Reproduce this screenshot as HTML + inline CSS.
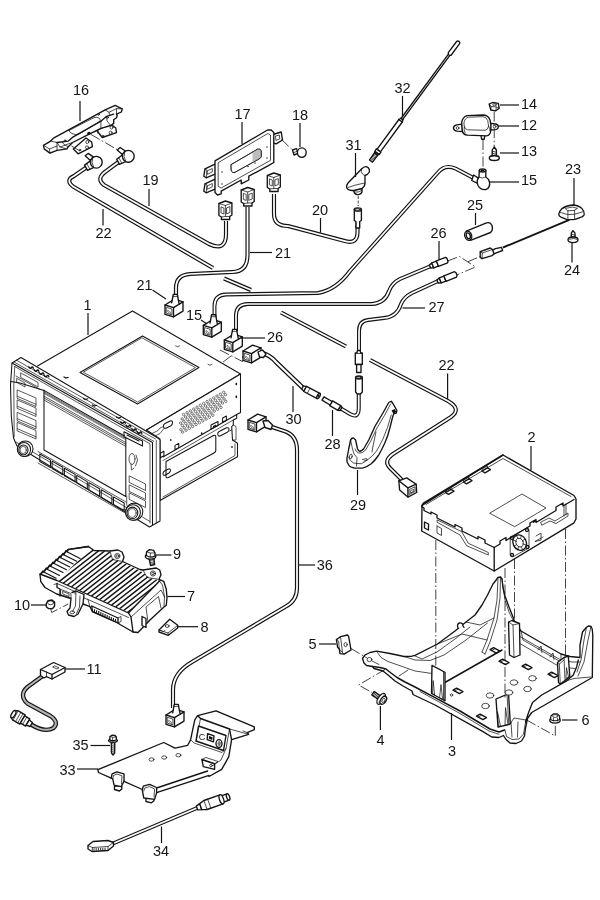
<!DOCTYPE html>
<html><head><meta charset="utf-8"><title>Radio / navigation parts diagram</title>
<style>
html,body{margin:0;padding:0;background:#fff;}
body{width:600px;height:900px;overflow:hidden;}
svg{display:block;will-change:transform;}
.l{fill:none;stroke:#141414;stroke-width:1.35;stroke-linecap:round;stroke-linejoin:round;}
.t{fill:none;stroke:#141414;stroke-width:0.75;stroke-linecap:round;stroke-linejoin:round;}
.w{fill:#fff;stroke:#141414;stroke-width:1.35;stroke-linecap:round;stroke-linejoin:round;}
.wt{fill:#fff;stroke:#141414;stroke-width:0.75;stroke-linecap:round;stroke-linejoin:round;}
.k{fill:#141414;stroke:none;}
.co{fill:none;stroke:#141414;stroke-width:4.15;stroke-linecap:butt;stroke-linejoin:round;}
.ci{fill:none;stroke:#fff;stroke-width:1.75;stroke-linecap:butt;stroke-linejoin:round;}
.dd{fill:none;stroke:#141414;stroke-width:0.8;stroke-dasharray:10 2.5 1.5 2.5;}
.ld{fill:none;stroke:#141414;stroke-width:1.2;}
#radio .l,#radio .w{stroke-width:1.05;}
#radio .t,#radio .wt{stroke-width:0.7;}
text{font-family:"Liberation Sans",sans-serif;font-size:14.5px;fill:#141414;text-anchor:middle;}
</style></head><body>
<svg width="600" height="900" viewBox="0 0 600 900">
<rect width="600" height="900" fill="#fff"/>
<g id="cables">
<path class="co" d="M87 167 L74 176 Q65 180 73 186.5 L213 268"/><path class="ci" d="M87 167 L74 176 Q65 180 73 186.5 L213 268"/>
<path class="co" d="M224 278.5 L251 290"/><path class="ci" d="M224 278.5 L251 290"/>
<path class="co" d="M281 312.5 L346 346.5"/><path class="ci" d="M281 312.5 L346 346.5"/>
<path class="co" d="M370 360 L448 401 Q462 409 451 417 L393 454 Q383 461 390 468 L402 480"/><path class="ci" d="M370 360 L448 401 Q462 409 451 417 L393 454 Q383 461 390 468 L402 480"/>
<path class="co" d="M118.5 162 L105 172 Q96 179 104 185 L209 244 Q226 252 226 234 L226 221"/><path class="ci" d="M118.5 162 L105 172 Q96 179 104 185 L209 244 Q226 252 226 234 L226 221"/>
<path class="co" d="M247.5 207 L247.5 255 Q247.5 272 232 272 L190 274 Q176 275 176 288 L176 299"/><path class="ci" d="M247.5 207 L247.5 255 Q247.5 272 232 272 L190 274 Q176 275 176 288 L176 299"/>
<path class="co" d="M274 194 L274 214 Q274 226 288 226 L344 240.8 Q357.5 245 357.5 232 L357.5 220"/><path class="ci" d="M274 194 L274 214 Q274 226 288 226 L344 240.8 Q357.5 245 357.5 232 L357.5 220"/>
<path class="co" d="M473 177.8 L455.5 168.5 Q445 164 438 172.5 L350 271 Q336 290 318 293 L226 294.5 Q214.5 295 214.5 306 L214.5 319" style="stroke-width:3.9"/><path class="ci" d="M473 177.8 L455.5 168.5 Q445 164 438 172.5 L350 271 Q336 290 318 293 L226 294.5 Q214.5 295 214.5 306 L214.5 319" style="stroke-width:1.65;"/>
<path class="co" d="M431 266 L400 279 Q392 283 389 291 Q385 303 372 304 L248 304 Q236 304 236 316 L236 331" style="stroke-width:4.0"/><path class="ci" d="M431 266 L400 279 Q392 283 389 291 Q385 303 372 304 L248 304 Q236 304 236 316 L236 331" style="stroke-width:1.7;"/>
<path class="co" d="M438 281 L412 293 Q404 297 401 304 Q397 317 384 318 L368 320 Q359 321 359 331 L359 353" style="stroke-width:4.0"/><path class="ci" d="M438 281 L412 293 Q404 297 401 304 Q397 317 384 318 L368 320 Q359 321 359 331 L359 353" style="stroke-width:1.7;"/>
<path class="co" d="M358.75 392 L358.75 408 Q358.75 419 350 414 L340 408" style="stroke-width:4.0"/><path class="ci" d="M358.75 392 L358.75 408 Q358.75 419 350 414 L340 408" style="stroke-width:1.7;"/>
<path class="co" d="M262 353 Q270 355 276 362 L303 388" style="stroke-width:4.6"/><path class="ci" d="M262 353 Q270 355 276 362 L303 388" style="stroke-width:2.2;"/>
<path class="co" d="M272 427 L284 431 Q297 435 297 450 L297 588 Q297 601 285 607 L192 662 Q173 673 173 690 L173 708"/><path class="ci" d="M272 427 L284 431 Q297 435 297 450 L297 588 Q297 601 285 607 L192 662 Q173 673 173 690 L173 708"/>
<path class="co" d="M44 675 L27.5 687 Q18.5 695 27.5 703.5 L50.5 716 Q59.5 722 53.5 728 Q45 733 31 724.5" style="stroke-width:4.4"/><path class="ci" d="M44 675 L27.5 687 Q18.5 695 27.5 703.5 L50.5 716 Q59.5 722 53.5 728 Q45 733 31 724.5" style="stroke-width:2.0;stroke:#b5b5b5;"/>
<path class="co" d="M113 843.5 L197 808" style="stroke-width:4.0"/><path class="ci" d="M113 843.5 L197 808" style="stroke-width:1.8;"/>
<path d="M569.3 219.8 L503 247.5" style="fill:none;stroke:#141414;stroke-width:1.9"/>
</g>
<g id="radio">
<path class="w" d="M37.5 366.0 L132.5 311.0 L240.5 374.0 L146.5 430.0"/>
<path class="l" d="M142.5 336.0 L199.0 367.5 L137.5 404.0 L80.0 372.5 Z"/>
<path class="t" d="M142.3 338.0 L195.4 367.6 L137.6 402.0 L83.6 372.4 Z"/>
<path class="w" d="M146.5 430.0 L240.5 374.0 L240.5 412.5 L236.7 414.5 L236.7 418.3 L233.3 420.0 L233.3 425.0 L231.7 426.7 L232.5 440.0 L237.5 443.3 L237.5 456.7 L160.0 500.5 L160.0 439.0 Z"/>
<path class="l" d="M236.7 414.5 L163.0 457.0"/>
<path class="t" d="M233.3 420.0 L163.0 460.5"/>
<path class="t" d="M163.0 497.0 L235.0 455.5 L235.0 444.0"/>
<path class="l" d="M166 461.5 L213.5 435.5 Q215.8 434.8 215.8 437 L215.8 450.5 Q215.8 452 214 453 L168.5 477.5 Q166 478.3 166 476.5 Z"/>
<path class="l" d="M163.5 426.5 Q163 424.5 165 423.5 L170 421 Q172.5 420.3 172.5 422.5 Q172.6 424.8 170.5 426 L166 428.2 Q163.8 428.8 163.5 426.5 Z"/>
<path class="t" d="M152.0 433.5 L158.0 430.5 L160.0 428.0 L163.5 426.5"/>
<path class="t" d="M154.0 436.5 L160.0 433.5 L164.0 428.5"/>
<path class="l" d="M217.8 434.5 Q217.3 432.5 219.2 431.5 L226.5 427.8 Q229 427.2 229 429.3 Q229.2 431.3 227.3 432.3 L220 436 Q218 436.6 217.8 434.5 Z"/>
<path class="l" d="M175.0 445.4 L178.8 443.4 L178.8 447.6 L175.0 449.6 Z"/>
<path class="l" d="M222.6 418.0 L226.4 416.0 L226.4 420.2 L222.6 422.2 Z"/>
<path class="l" d="M160.3 453.2 L163.9 451.2 L163.9 455.8 L160.3 457.8 Z"/>
<path class="l" d="M211.0 425.0 L218.0 421.5 L218.0 425.5 L211.0 429.0 Z"/>
<path class="k" d="M213 426 l3 -1.5 l0 1.6 l-3 1.5 Z"/>
<ellipse class="k" cx="236.3" cy="384" rx="0.9" ry="1.3"/>
<ellipse class="k" cx="236.3" cy="396.7" rx="0.9" ry="1.3"/>
<ellipse class="k" cx="170.8" cy="440" rx="0.8" ry="1.1"/>
<ellipse class="k" cx="201.7" cy="433.3" rx="0.8" ry="1.1"/>
<ellipse class="k" cx="232" cy="447" rx="0.8" ry="1.1"/>
<path class="t" d="M233.3 425.0 L236.0 426.5 L236.0 440.0 L232.5 440.0"/>
<path class="t" d="M231.7 430.0 L229.5 431.0"/>
<path class="l" d="M163 474 Q162.8 472 164.5 471 L168.5 469 Q170.5 468.5 170.5 470.3 Q170.5 472 169 473 L165 475.2 Q163.2 475.8 163 474 Z"/>
<circle cx="183.6" cy="414.6" r="1.2" style="fill:none;stroke:#141414;stroke-width:0.55"/>
<circle cx="187.0" cy="412.8" r="1.2" style="fill:none;stroke:#141414;stroke-width:0.55"/>
<circle cx="190.3" cy="410.9" r="1.2" style="fill:none;stroke:#141414;stroke-width:0.55"/>
<circle cx="193.7" cy="409.1" r="1.2" style="fill:none;stroke:#141414;stroke-width:0.55"/>
<circle cx="197.0" cy="407.2" r="1.2" style="fill:none;stroke:#141414;stroke-width:0.55"/>
<circle cx="200.3" cy="405.3" r="1.2" style="fill:none;stroke:#141414;stroke-width:0.55"/>
<circle cx="203.7" cy="403.5" r="1.2" style="fill:none;stroke:#141414;stroke-width:0.55"/>
<circle cx="207.0" cy="401.6" r="1.2" style="fill:none;stroke:#141414;stroke-width:0.55"/>
<circle cx="210.4" cy="399.8" r="1.2" style="fill:none;stroke:#141414;stroke-width:0.55"/>
<circle cx="213.7" cy="397.9" r="1.2" style="fill:none;stroke:#141414;stroke-width:0.55"/>
<circle cx="217.0" cy="396.0" r="1.2" style="fill:none;stroke:#141414;stroke-width:0.55"/>
<circle cx="220.4" cy="394.2" r="1.2" style="fill:none;stroke:#141414;stroke-width:0.55"/>
<circle cx="223.7" cy="392.3" r="1.2" style="fill:none;stroke:#141414;stroke-width:0.55"/>
<circle cx="182.1" cy="418.9" r="1.2" style="fill:none;stroke:#141414;stroke-width:0.55"/>
<circle cx="185.5" cy="417.0" r="1.2" style="fill:none;stroke:#141414;stroke-width:0.55"/>
<circle cx="188.8" cy="415.1" r="1.2" style="fill:none;stroke:#141414;stroke-width:0.55"/>
<circle cx="192.1" cy="413.3" r="1.2" style="fill:none;stroke:#141414;stroke-width:0.55"/>
<circle cx="195.5" cy="411.4" r="1.2" style="fill:none;stroke:#141414;stroke-width:0.55"/>
<circle cx="198.8" cy="409.6" r="1.2" style="fill:none;stroke:#141414;stroke-width:0.55"/>
<circle cx="202.2" cy="407.7" r="1.2" style="fill:none;stroke:#141414;stroke-width:0.55"/>
<circle cx="205.5" cy="405.9" r="1.2" style="fill:none;stroke:#141414;stroke-width:0.55"/>
<circle cx="208.8" cy="404.0" r="1.2" style="fill:none;stroke:#141414;stroke-width:0.55"/>
<circle cx="212.2" cy="402.1" r="1.2" style="fill:none;stroke:#141414;stroke-width:0.55"/>
<circle cx="215.5" cy="400.3" r="1.2" style="fill:none;stroke:#141414;stroke-width:0.55"/>
<circle cx="218.9" cy="398.4" r="1.2" style="fill:none;stroke:#141414;stroke-width:0.55"/>
<circle cx="222.2" cy="396.6" r="1.2" style="fill:none;stroke:#141414;stroke-width:0.55"/>
<circle cx="225.5" cy="394.7" r="1.2" style="fill:none;stroke:#141414;stroke-width:0.55"/>
<circle cx="180.6" cy="423.1" r="1.2" style="fill:none;stroke:#141414;stroke-width:0.55"/>
<circle cx="183.9" cy="421.2" r="1.2" style="fill:none;stroke:#141414;stroke-width:0.55"/>
<circle cx="187.3" cy="419.4" r="1.2" style="fill:none;stroke:#141414;stroke-width:0.55"/>
<circle cx="190.6" cy="417.5" r="1.2" style="fill:none;stroke:#141414;stroke-width:0.55"/>
<circle cx="194.0" cy="415.7" r="1.2" style="fill:none;stroke:#141414;stroke-width:0.55"/>
<circle cx="197.3" cy="413.8" r="1.2" style="fill:none;stroke:#141414;stroke-width:0.55"/>
<circle cx="200.6" cy="411.9" r="1.2" style="fill:none;stroke:#141414;stroke-width:0.55"/>
<circle cx="204.0" cy="410.1" r="1.2" style="fill:none;stroke:#141414;stroke-width:0.55"/>
<circle cx="207.3" cy="408.2" r="1.2" style="fill:none;stroke:#141414;stroke-width:0.55"/>
<circle cx="210.7" cy="406.4" r="1.2" style="fill:none;stroke:#141414;stroke-width:0.55"/>
<circle cx="214.0" cy="404.5" r="1.2" style="fill:none;stroke:#141414;stroke-width:0.55"/>
<circle cx="217.3" cy="402.6" r="1.2" style="fill:none;stroke:#141414;stroke-width:0.55"/>
<circle cx="220.7" cy="400.8" r="1.2" style="fill:none;stroke:#141414;stroke-width:0.55"/>
<circle cx="224.0" cy="398.9" r="1.2" style="fill:none;stroke:#141414;stroke-width:0.55"/>
<circle cx="182.4" cy="425.5" r="1.2" style="fill:none;stroke:#141414;stroke-width:0.55"/>
<circle cx="185.8" cy="423.6" r="1.2" style="fill:none;stroke:#141414;stroke-width:0.55"/>
<circle cx="189.1" cy="421.7" r="1.2" style="fill:none;stroke:#141414;stroke-width:0.55"/>
<circle cx="192.4" cy="419.9" r="1.2" style="fill:none;stroke:#141414;stroke-width:0.55"/>
<circle cx="195.8" cy="418.0" r="1.2" style="fill:none;stroke:#141414;stroke-width:0.55"/>
<circle cx="199.1" cy="416.2" r="1.2" style="fill:none;stroke:#141414;stroke-width:0.55"/>
<circle cx="202.5" cy="414.3" r="1.2" style="fill:none;stroke:#141414;stroke-width:0.55"/>
<circle cx="205.8" cy="412.4" r="1.2" style="fill:none;stroke:#141414;stroke-width:0.55"/>
<circle cx="209.1" cy="410.6" r="1.2" style="fill:none;stroke:#141414;stroke-width:0.55"/>
<circle cx="212.5" cy="408.7" r="1.2" style="fill:none;stroke:#141414;stroke-width:0.55"/>
<circle cx="215.8" cy="406.9" r="1.2" style="fill:none;stroke:#141414;stroke-width:0.55"/>
<circle cx="219.2" cy="405.0" r="1.2" style="fill:none;stroke:#141414;stroke-width:0.55"/>
<circle cx="222.5" cy="403.1" r="1.2" style="fill:none;stroke:#141414;stroke-width:0.55"/>
<circle cx="225.8" cy="401.3" r="1.2" style="fill:none;stroke:#141414;stroke-width:0.55"/>
<circle cx="180.9" cy="429.7" r="1.2" style="fill:none;stroke:#141414;stroke-width:0.55"/>
<circle cx="184.2" cy="427.8" r="1.2" style="fill:none;stroke:#141414;stroke-width:0.55"/>
<circle cx="187.6" cy="426.0" r="1.2" style="fill:none;stroke:#141414;stroke-width:0.55"/>
<circle cx="190.9" cy="424.1" r="1.2" style="fill:none;stroke:#141414;stroke-width:0.55"/>
<circle cx="194.3" cy="422.3" r="1.2" style="fill:none;stroke:#141414;stroke-width:0.55"/>
<circle cx="197.6" cy="420.4" r="1.2" style="fill:none;stroke:#141414;stroke-width:0.55"/>
<circle cx="200.9" cy="418.5" r="1.2" style="fill:none;stroke:#141414;stroke-width:0.55"/>
<circle cx="204.3" cy="416.7" r="1.2" style="fill:none;stroke:#141414;stroke-width:0.55"/>
<circle cx="207.6" cy="414.8" r="1.2" style="fill:none;stroke:#141414;stroke-width:0.55"/>
<circle cx="211.0" cy="413.0" r="1.2" style="fill:none;stroke:#141414;stroke-width:0.55"/>
<circle cx="214.3" cy="411.1" r="1.2" style="fill:none;stroke:#141414;stroke-width:0.55"/>
<circle cx="217.6" cy="409.2" r="1.2" style="fill:none;stroke:#141414;stroke-width:0.55"/>
<circle cx="221.0" cy="407.4" r="1.2" style="fill:none;stroke:#141414;stroke-width:0.55"/>
<circle cx="182.7" cy="432.1" r="1.2" style="fill:none;stroke:#141414;stroke-width:0.55"/>
<circle cx="186.1" cy="430.2" r="1.2" style="fill:none;stroke:#141414;stroke-width:0.55"/>
<circle cx="189.4" cy="428.3" r="1.2" style="fill:none;stroke:#141414;stroke-width:0.55"/>
<circle cx="192.7" cy="426.5" r="1.2" style="fill:none;stroke:#141414;stroke-width:0.55"/>
<circle cx="196.1" cy="424.6" r="1.2" style="fill:none;stroke:#141414;stroke-width:0.55"/>
<circle cx="199.4" cy="422.8" r="1.2" style="fill:none;stroke:#141414;stroke-width:0.55"/>
<circle cx="202.8" cy="420.9" r="1.2" style="fill:none;stroke:#141414;stroke-width:0.55"/>
<circle cx="206.1" cy="419.1" r="1.2" style="fill:none;stroke:#141414;stroke-width:0.55"/>
<circle cx="209.4" cy="417.2" r="1.2" style="fill:none;stroke:#141414;stroke-width:0.55"/>
<circle cx="212.8" cy="415.3" r="1.2" style="fill:none;stroke:#141414;stroke-width:0.55"/>
<path class="w" d="M12.0 363.0 L21.0 357.5 L158.3 438.3 L160.0 440.0 L160.0 521.0 L149.5 527.0 L17.0 446.0 L13.5 438.0 L11.3 416.0 L10.5 385.0 Z"/>
<path class="l" d="M12.0 363.0 L152.5 442.5 L152.5 524.5"/>
<path class="t" d="M156.3 440.5 L156.3 523.0"/>
<path class="t" d="M14.7 366.5 L150.0 443.8 L150.0 523.0"/>
<path class="t" d="M14.7 366.5 L13.8 385.0 L14.2 437.0"/>
<path class="t" d="M16.5 360.2 L155.5 439.0"/>
<path class="t" d="M14.5 362.3 L153.8 441.3"/>
<path class="l" d="M10.8 381.5 L20.0 383.0 L44.0 390.4"/>
<path class="l" d="M44.0 390.4 L124.5 436.0"/>
<path class="t" d="M44.0 391.6 L124.5 437.1" style="stroke-width:0.55"/>
<path class="t" d="M44.0 392.5 L124.5 438.1" style="stroke-width:0.55"/>
<path class="t" d="M44.0 393.5 L124.5 439.1" style="stroke-width:0.55"/>
<path class="t" d="M44.0 396.2 L125.8 442.6"/>
<path class="t" d="M44.0 398.0 L125.8 444.4"/>
<path class="t" d="M44.0 400.0 L125.8 446.4"/>
<path class="l" d="M44.0 390.0 L44.0 450.0 L125.8 496.5 L125.8 437.0"/>
<path class="t" d="M126.7 496.0 L126.7 505.0"/>
<path class="t" d="M21.0 373.0 L38.0 382.5 L38.0 387.0 L21.0 377.5 Z"/>
<path class="t" d="M17.0 378.5 L25.0 383.0 L25.0 387.0 L17.0 382.5 Z"/>
<path class="t" d="M16.0 376.0 L40.0 389.5"/>
<path class="t" d="M17.5 390.0 L36.0 398.0 L36.0 406.5 L17.5 398.5 Z"/>
<path class="t" d="M17.5 396.3 L36.0 404.3"/>
<path class="t" d="M17.5 400.0 L36.0 408.0 L36.0 416.5 L17.5 408.5 Z"/>
<path class="t" d="M17.5 406.3 L36.0 414.3"/>
<path class="t" d="M17.5 412.5 L36.0 420.5 L36.0 429.0 L17.5 421.0 Z"/>
<path class="t" d="M17.5 418.8 L36.0 426.8"/>
<path class="t" d="M17.5 422.5 L36.0 430.5 L36.0 439.0 L17.5 431.0 Z"/>
<path class="t" d="M17.5 428.8 L36.0 436.8"/>
<path class="l" d="M124.0 431.7 L142.5 441.0 L142.5 446.0 L124.0 436.8 Z"/>
<path class="l" d="M127.0 435.0 L139.0 441.0"/>
<ellipse class="t" cx="132" cy="459" rx="3" ry="5.5"/>
<path class="t" d="M131.0 464.0 L131.5 470.0 L134.0 468.0"/>
<path class="t" d="M136.0 455.0 L137.5 460.0 L135.5 466.0"/>
<path class="t" d="M129.5 476.0 L145.5 484.0 L145.5 490.5 L129.5 482.5 Z"/>
<path class="t" d="M129.5 485.0 L145.5 493.0 L145.5 499.5 L129.5 491.5 Z"/>
<path class="t" d="M129.5 493.0 L145.5 501.0 L145.5 507.5 L129.5 499.5 Z"/>
<path class="t" d="M38.0 451.5 L126.0 502.0"/>
<path class="t" d="M38.0 463.0 L126.0 513.5"/>
<path class="l" d="M39.8 454.0 L50.5 460.1 L50.5 467.6 L39.8 461.5 Z"/>
<path class="l" d="M52.1 461.1 L62.8 467.3 L62.8 474.8 L52.1 468.6 Z"/>
<path class="l" d="M64.4 468.3 L75.1 474.4 L75.1 481.9 L64.4 475.8 Z"/>
<path class="l" d="M76.7 475.4 L87.3 481.6 L87.3 489.1 L76.7 482.9 Z"/>
<path class="l" d="M88.9 482.6 L99.6 488.7 L99.6 496.2 L88.9 490.1 Z"/>
<path class="l" d="M101.2 489.7 L111.9 495.9 L111.9 503.4 L101.2 497.2 Z"/>
<path class="l" d="M113.5 496.9 L124.2 503.0 L124.2 510.5 L113.5 504.4 Z"/>
<path class="t" d="M16.0 442.0 L150.0 521.5"/>
<ellipse class="w" cx="25.2" cy="448.7" rx="7.8" ry="7.8"/>
<ellipse class="w" cx="24" cy="449.5" rx="6.6" ry="7.0"/>
<ellipse class="l" cx="23.4" cy="449.9" rx="4.6" ry="5.0"/>
<ellipse class="t" cx="23.2" cy="450.0" rx="3.2" ry="3.5999999999999996"/>
<ellipse class="w" cx="134.2" cy="511.7" rx="8.6" ry="8.6"/>
<ellipse class="w" cx="133" cy="512.5" rx="7.3999999999999995" ry="7.8"/>
<ellipse class="l" cx="132.4" cy="512.9" rx="5.3999999999999995" ry="5.8"/>
<ellipse class="t" cx="132.2" cy="513.0" rx="4.0" ry="4.3999999999999995"/>
<path d="M28.8 366.8 q1.5 2.6 2.6 0.6 q1 -1.2 2 0.8" style="fill:none;stroke:#141414;stroke-width:1.4;stroke-linecap:round"/>
<path d="M34.3 369.8 q1.5 2.6 2.6 0.6 q1 -1.2 2 0.8" style="fill:none;stroke:#141414;stroke-width:1.4;stroke-linecap:round"/>
<path d="M39.3 372.8 q1.5 2.6 2.6 0.6 q1 -1.2 2 0.8" style="fill:none;stroke:#141414;stroke-width:1.4;stroke-linecap:round"/>
<path d="M44.3 375.3 q1.5 2.6 2.6 0.6 q1 -1.2 2 0.8" style="fill:none;stroke:#141414;stroke-width:1.4;stroke-linecap:round"/>
<path d="M120.8 421.8 q1.5 2.6 2.6 0.6 q1 -1.2 2 0.8" style="fill:none;stroke:#141414;stroke-width:1.4;stroke-linecap:round"/>
<path d="M126.3 425.3 q1.5 2.6 2.6 0.6 q1 -1.2 2 0.8" style="fill:none;stroke:#141414;stroke-width:1.4;stroke-linecap:round"/>
<path d="M131.8 428.8 q1.5 2.6 2.6 0.6 q1 -1.2 2 0.8" style="fill:none;stroke:#141414;stroke-width:1.4;stroke-linecap:round"/>
<path d="M137.3 431.8 q1.5 2.6 2.6 0.6 q1 -1.2 2 0.8" style="fill:none;stroke:#141414;stroke-width:1.4;stroke-linecap:round"/>
<path d="M64 376.9 l2 1.2 l2.2 -0.8" style="fill:none;stroke:#141414;stroke-width:1.2;stroke-linecap:round"/>
<path d="M92.5 404.9 l2 1.2 l2.2 -0.8" style="fill:none;stroke:#141414;stroke-width:1.2;stroke-linecap:round"/>
<path d="M116.5 416.9 l2 1.2 l2.2 -0.8" style="fill:none;stroke:#141414;stroke-width:1.2;stroke-linecap:round"/>
<path d="M83.5 398.4 l2 1.2 l2.2 -0.8" style="fill:none;stroke:#141414;stroke-width:1.2;stroke-linecap:round"/>
<path class="t" d="M175.5 346 q2 1.6 4 0"/>
<path class="t" d="M208 364.5 q2 1.6 4 0"/>
</g>
<g id="p16">
<path class="w" d="M73.3 148.9 L78.2 153.8 L92.4 146.7 L91.7 142.0 L86.0 138.0 Z"/>
<path class="w" d="M96.7 130.5 L102.3 137.5 L116.5 132.6 L115.8 128.0 L110.5 124.0 Z"/>
<path class="w" d="M43.5 145.3 L50.6 141.1 L53.5 138.2 L105.2 109.9 L115.1 105.4 L122.2 108.8 L121.4 112.0 L116.5 114.2 L117.2 115.6 L116.5 117.7 L113.7 119.8 L113.7 123.4 L110.8 125.5 L100.9 128.3 L86.7 135.4 L72.6 142.5 L68.3 146.7 L66.9 148.9 L57.0 150.3 L49.9 153.1 L44.2 148.9 Z"/>
<path class="l" d="M57.0 142.5 L68.3 141.1 L73.3 136.8 L100.9 121.2 L106.6 116.3 L113.7 114.2"/>
<path class="t" d="M50.6 141.1 L57.0 142.5 L57.0 150.3"/>
<path class="t" d="M43.5 145.3 L49.5 149.0 L57.0 146.0"/>
<path class="t" d="M49.5 149.0 L49.9 153.1"/>
<path class="t" d="M57.0 142.5 L60.0 147.0 L66.9 148.9"/>
<path class="t" d="M60.0 147.0 L68.0 144.0 L72.6 142.5"/>
<path class="t" d="M62.0 141.8 L64.0 144.5 L68.3 146.7"/>
<path class="t" d="M105.2 109.9 L109.0 112.3 L116.5 108.6 L122.2 108.8"/>
<path class="t" d="M109.0 112.3 L109.5 115.2"/>
<path class="t" d="M116.5 108.6 L116.5 114.2"/>
<path class="t" d="M106.6 116.3 L107.0 121.0 L110.8 125.5"/>
<path class="t" d="M100.9 121.2 L100.9 128.3"/>
<path class="t" d="M69 130.5 L94 117.6 Q97 116.5 99.5 118.4 Q101.5 120 99 122 L79 134 Q76 135.5 72 133.5 Q69 132 69 130.5 Z"/>
<circle class="wt" cx="87.3" cy="142" r="1.5"/>
<circle class="wt" cx="87" cy="147.3" r="1.5"/>
<circle class="wt" cx="111.5" cy="127.6" r="1.5"/>
<circle class="wt" cx="110.6" cy="132.6" r="1.5"/>
<ellipse class="k" cx="89" cy="133.2" rx="1.8" ry="1.5"/>
<path class="t" d="M95 132 q1.5 -2.5 3 -1.5 l0 3"/>
<circle class="t" cx="65" cy="140.5" r="0.8"/>
<circle class="t" cx="98.5" cy="114.5" r="0.8"/>
<circle class="t" cx="103" cy="136" r="0.8"/>
<circle class="t" cx="107.5" cy="117.5" r="0.8"/>
<circle class="t" cx="80" cy="150" r="0.8"/>
<path class="dd" d="M71.5 146 L80 151"/>
<path class="dd" d="M91 134.5 L118 150"/>
<path class="w" d="M91.0 160.39999999999998 L84.6 165.1 L87.5 170.29999999999998 L93.89999999999999 167.39999999999998 Z"/>
<path class="t" d="M86.8 163.5 L89.7 169.1"/>
<path class="w" d="M85.2 155.79999999999998 L88.1 153.39999999999998 L93.3 156.89999999999998 L90.39999999999999 160.39999999999998 Z"/>
<circle class="w" cx="96.3" cy="162.2" r="5.9"/>
<path class="t" d="M92.7 157.6 Q90.8 162.2 93.7 167.39999999999998"/>
<path class="w" d="M123.00000000000001 154.5 L116.60000000000001 159.20000000000002 L119.50000000000001 164.4 L125.9 161.5 Z"/>
<path class="t" d="M118.80000000000001 157.60000000000002 L121.70000000000002 163.20000000000002"/>
<path class="w" d="M117.20000000000002 149.9 L120.10000000000001 147.5 L125.30000000000001 151.0 L122.4 154.5 Z"/>
<circle class="w" cx="128.3" cy="156.3" r="5.9"/>
<path class="t" d="M124.70000000000002 151.70000000000002 Q122.80000000000001 156.3 125.70000000000002 161.5"/>
</g>
<g id="p17">
<path class="w" d="M215.5 163.8 L205.0 168.8 L203.8 176.2 L206.2 177.8 L215.5 173.8 Z"/>
<path class="t" d="M207.5 170.8 L212.3 168.5 L212.3 171.8 L207.5 174.2 Z"/>
<path class="t" d="M205.0 168.8 L207.0 170.0 L206.2 177.8"/>
<path class="w" d="M215.5 178.8 L205.0 183.8 L203.8 191.2 L206.2 192.8 L215.5 188.8 Z"/>
<path class="t" d="M207.5 185.8 L212.3 183.5 L212.3 186.8 L207.5 189.2 Z"/>
<path class="t" d="M205.0 183.8 L207.0 185.0 L206.2 192.8"/>
<path class="w" d="M273.0 134.5 L281.2 132.0 L282.5 140.0 L276.2 143.8 L273.0 143.0 Z"/>
<path class="t" d="M275.8 136.0 L279.3 135.0 L279.8 138.8 L276.3 140.3 Z"/>
<path class="w" d="M215.0 160.8 L267.5 130.0 L271.2 130.0 L273.8 132.5 L273.8 162.5 L267.5 166.2 L248.8 176.2 L248.8 180.0 L241.2 183.8 L241.2 180.0 L221.2 191.2 L221.2 193.8 L217.5 195.0 L215.0 192.5 Z"/>
<path class="t" d="M218.5 162.5 L267.8 133.5 L270.5 135.0 L270.5 160.3 L221.2 188.0 L218.5 186.5 Z"/>
<path class="t" d="M231.25 164.5 L257.5 149.2 Q260.5 148.2 261.25 151 L261.25 156.5 Q261 158 259 159 L235 172.3 Q232 173.3 231.25 170.5 Z"/>
<path d="M252.5 152.2 L257.5 149.4 Q260.5 148.4 261 151 L261 156.5 Q260.8 157.8 259 158.8 L252.5 162.4 Z" fill="#bdbdbd" stroke="none"/>
<path class="t" d="M231.25 164.5 L257.5 149.2 Q260.5 148.2 261.25 151 L261.25 156.5 Q261 158 259 159 L235 172.3 Q232 173.3 231.25 170.5 Z"/>
<circle class="k" cx="222" cy="172" r="0.7"/>
<circle class="k" cx="222" cy="184" r="0.7"/>
<circle class="k" cx="267" cy="147" r="0.7"/>
<circle class="k" cx="267" cy="158" r="0.7"/>
<circle class="k" cx="248" cy="166.5" r="0.7"/>
<circle class="k" cx="255" cy="163" r="0.7"/>
<path class="w" d="M218.9 203.5 L225.4 201.0 L231.9 203.0 L231.9 215.0 L229.7 216.5 L229.7 219.5 L221.4 219.5 L221.4 217.0 L218.9 215.5 Z"/>
<path class="t" d="M218.9 203.5 L225.4 205.5 L231.9 203.0"/>
<path class="t" d="M225.4 205.5 L225.4 216.5"/>
<path class="t" d="M221.4 207.0 L223.9 208.0 L223.9 214.0 L221.4 213.0 Z"/>
<path class="t" d="M226.9 207.8 L229.9 206.6 L229.9 212.5 L226.9 213.7 Z"/>
<path class="t" d="M221.4 217.0 L225.4 216.5 L229.7 216.5"/>
<path class="w" d="M241.2 190.0 L247.7 187.5 L254.2 189.5 L254.2 201.5 L252.0 203.0 L252.0 206.0 L243.7 206.0 L243.7 203.5 L241.2 202.0 Z"/>
<path class="t" d="M241.2 190.0 L247.7 192.0 L254.2 189.5"/>
<path class="t" d="M247.7 192.0 L247.7 203.0"/>
<path class="t" d="M243.7 193.5 L246.2 194.5 L246.2 200.5 L243.7 199.5 Z"/>
<path class="t" d="M249.2 194.3 L252.2 193.1 L252.2 199.0 L249.2 200.2 Z"/>
<path class="t" d="M243.7 203.5 L247.7 203.0 L252.0 203.0"/>
<path class="w" d="M267.3 175.5 L273.8 173.0 L280.3 175.0 L280.3 187.0 L278.1 188.5 L278.1 191.5 L269.8 191.5 L269.8 189.0 L267.3 187.5 Z"/>
<path class="t" d="M267.3 175.5 L273.8 177.5 L280.3 175.0"/>
<path class="t" d="M273.8 177.5 L273.8 188.5"/>
<path class="t" d="M269.8 179.0 L272.3 180.0 L272.3 186.0 L269.8 185.0 Z"/>
<path class="t" d="M275.3 179.8 L278.3 178.6 L278.3 184.5 L275.3 185.7 Z"/>
<path class="t" d="M269.8 189.0 L273.8 188.5 L278.1 188.5"/>
<path class="w" d="M292.5 150 L296.5 148.6 L298 153.4 L294 155 Z"/>
<path class="t" d="M293.5 152.7 L297.3 151.2"/>
<ellipse class="w" cx="301.8" cy="152.6" rx="4.4" ry="4.8"/>
<path class="dd" d="M281.5 139.5 L291.5 149"/>
</g>
<g id="p31_32">
<path class="w" d="M353.5 190.5 L354.5 193 Q356 195 358.5 194.6 Q361.5 194 362 192 L362 188.5 Z"/>
<path class="t" d="M354 192 Q358 193 362 190.5"/>
<path class="w" d="M361.5 169 L348 183 Q345.5 186.5 347.5 189 Q350 191 354 190.3 L362 188.3 Q365 186.5 365 183 L365 175.5 Q368 174.5 369.3 172 Q370 168.5 367 166.8 Q364.5 165.8 361.5 169 Z"/>
<path class="t" d="M348 187.5 Q354 185 364.5 183"/>
<path class="t" d="M361.5 169 Q360.5 172 362.5 174 Q363.8 175.3 365 175.5"/>
<path class="dd" d="M358.2 196 L358.2 206" style="stroke-dasharray:3 1.5"/>
<path class="w" d="M354.3 209.5 L354.3 220.5 L356 221.5 L356 228 L359.7 228 L359.7 221.5 L361.4 220.5 L361.4 209.5 Z"/>
<ellipse class="w" cx="357.85" cy="209.5" rx="3.55" ry="1.6"/>
<ellipse class="t" cx="357.85" cy="209.6" rx="2.2" ry="0.9"/>
<path class="w" d="M401.0 118.5 L449.0 53.3 L450.6 54.4 L402.6 119.7 Z"/>
<path class="w" d="M448.3 52.7 L456.6 41.5 A1.9 1.9 0 0 1 459.6 43.7 L451.3 55.0 Q448.0 56.3 448.3 52.7Z"/>
<path class="w" d="M377.0 149.3 L398.9 119.5 L402.3 122.0 L380.4 151.8 Z"/>
<path class="l" d="M398.9 119.5 L401.6 117.7"/>
<path class="l" d="M402.3 122.0 L403.2 118.9"/>
<path class="t" d="M398.9 119.5 L402.3 122.0"/>
<path class="w" d="M374.7 151.3 L376.4 148.9 L381.0 152.2 L379.2 154.6 Z"/>
<path class="w" d="M374.4 153.0 L375.3 151.8 L378.5 154.1 L377.6 155.3 Z"/>
<path class="w" d="M369.5 159.9 L374.5 153.0 L377.6 155.3 L372.5 162.1 Z"/>
<path class="t" d="M370.4 158.7 L373.8 160.4"/>
<path class="t" d="M371.2 157.5 L374.7 159.2"/>
<path class="t" d="M372.1 156.2 L375.6 158.0"/>
<path class="t" d="M373.0 155.0 L376.4 156.8"/>
<path class="t" d="M373.9 153.8 L377.3 155.6"/>
</g>
<g id="p12">
<path class="w" d="M462 124.2 L456.5 124.8 Q453 126 453.5 128.3 Q454 130.8 457 131.2 L462.5 131.7 Z"/>
<circle class="t" cx="457.6" cy="128" r="1.4"/>
<path class="w" d="M490.5 123.3 L496 124 Q498.6 125 498.3 127 Q498 129.3 495.5 129.6 L490.5 130 Z"/>
<circle class="t" cx="494.6" cy="126.6" r="1.4"/>
<path class="w" d="M480.8 135 L481.7 139.2 L484.2 139.2 L485 135 Z"/>
<path class="w" d="M461.7 122.5 Q462.5 117 467 115.6 L483.5 115 Q488.5 115.5 490 120 L490.8 124 L490.8 130.5 Q490.3 135.5 486.5 135.8 L467.5 135.2 Q463 134.5 462.3 131 Z"/>
<path class="t" d="M464 122.5 Q464.8 118 468.3 117.2 L482.8 116.7 Q486.5 117 487.7 120.5 L488.6 126 Q488 130 485 130.3 L467.5 129.8 Q464.8 129.3 464.3 126.5 Z"/>
<path class="t" d="M464.3 126.5 Q463.5 130 465 133 M488.6 126 Q490 128 490 131"/>
<path class="dd" d="M483 140 L483 168.5"/>
<path class="w" d="M489.2 104.2 L492.5 102.5 L498.3 103.3 L499.2 108.3 L495.8 110.8 L490.8 110 Z"/>
<path class="t" d="M489.2 104.2 L491.2 106.5 L496.3 107 L499.2 108.3 M491.2 106.5 L490.8 110 M496.3 107 L495.8 110.8"/>
<ellipse class="t" cx="494.5" cy="104.8" rx="1.8" ry="1"/>
<path class="dd" d="M494.2 111.7 L494.2 146.7"/>
<path class="w" d="M494.2 147 L492.2 150 L492.2 156 L496.4 156 L496.4 150 Z"/>
<path class="t" d="M492.2 151.2 L496.4 152.2 M492.2 153.2 L496.4 154.2"/>
<ellipse class="w" cx="494.3" cy="158" rx="5" ry="2.5"/>
<path class="t" d="M490.3 156.6 Q494.3 154.8 498.3 156.6"/>
<path class="w" d="M479.2 178.6 L473.6 175 L471.7 180.5 L477.6 183.4 Z"/>
<path class="w" d="M479.3 170.5 L479 177 Q476 181 478 185.5 Q481 190.5 486 189.5 Q490.5 187.5 489.5 182 Q488.5 178.5 485.8 177 L485.8 170.5 Z"/>
<ellipse class="w" cx="482.55" cy="170.5" rx="3.25" ry="1.5"/>
<ellipse class="k" cx="482.55" cy="170.6" rx="2" ry="0.8"/>
<path class="t" d="M479 177 Q482 179.5 485.8 177"/>
</g>
<g id="p23">
<path class="w" d="M466.3 231.2 L486.5 222.8 Q490.5 221.8 492 225.5 Q493.3 230 490.5 232.5 L470.5 240.3 Z"/>
<ellipse class="w" cx="468.2" cy="235.7" rx="3.4" ry="4.7" transform="rotate(-20 468.2 235.7)"/>
<ellipse class="l" cx="468.3" cy="235.8" rx="1.9" ry="3" transform="rotate(-20 468.3 235.8)"/>
<path class="w" d="M558.75 214.6 Q559 211.5 562 208.6 Q566 205.6 572.5 205 Q578.5 205.3 582 208.6 Q584.4 211.2 584.2 214.4 Q584 216 582 216.8 L575 219.3 Q570.5 219.8 566.5 219.3 L561 217.2 Q558.8 216.2 558.75 214.6 Z"/>
<path class="t" d="M565.8 208.3 L572.5 207.1 L577.5 208.3 L574.2 210.4 L567.9 210.8 Z"/>
<path class="t" d="M560.4 212.5 L567.9 214.6 L574.6 214.2 L583.3 211.7"/>
<path class="t" d="M567.9 210.8 L567.9 218.8 M574.6 210.4 L574.6 218.8"/>
<path class="w" d="M492 250.3 L495.5 248.6 L501.5 247.3 L502.6 250.5 L497 252.6 L493.5 254 Z"/>
<path class="w" d="M480.2 251.6 L490.3 248 L492.5 249.5 L494 254 L492 255.6 L482 258.6 L480.2 257.2 Z"/>
<path class="t" d="M480.2 251.6 L482.3 253 L482 258.6 M482.3 253 L492.5 249.5"/>
<path class="w" d="M573 230.6 L571.3 233.2 L571.3 238.6 L575 238.6 L575 233.2 Z"/>
<path class="t" d="M571.3 234.2 L575 235.2 M571.3 236.2 L575 237.2"/>
<ellipse class="w" cx="573" cy="239.8" rx="5" ry="2.8"/>
<path class="t" d="M569.5 239.2 Q573.2 237.6 577 239.2"/>
<path class="w" d="M429.4 265.0 L431.8 262.9 L433.8 267.9 L430.6 268.0 Z"/>
<path class="w" d="M431.8 262.9 L436.5 261.1 L438.4 266.2 L433.8 267.9 Z"/>
<path class="w" d="M436.4 260.9 L445.5 257.4 L447.0 258.4 L448.0 261.2 L447.6 262.9 L438.5 266.3 Z"/>
<path class="w" d="M436.9 280.0 L439.3 277.9 L441.3 282.9 L438.1 283.0 Z"/>
<path class="w" d="M439.3 277.9 L443.9 276.1 L445.9 281.1 L441.3 282.9 Z"/>
<path class="w" d="M443.9 275.9 L454.5 271.7 L455.9 272.6 L457.1 275.4 L456.6 277.1 L446.0 281.3 Z"/>
<path class="dd" d="M447.5 261 L459.5 256.5 L475.5 267 L456.5 275"/>
<path class="dd" d="M467.8 261.8 L480 256.5"/>
</g>
<g id="conns">
<path class="w" d="M165.0 305.0 L174.5 299.2 L183.0 301.8 L183.0 311.1 L173.5 316.9 L165.0 314.3 Z"/>
<path class="l" d="M165.0 305.0 L173.5 307.6 L173.5 316.9"/>
<path class="l" d="M173.5 307.6 L183.0 301.8"/>
<path class="t" d="M166.6 307.4 L171.9 309.0 L171.9 314.9 L166.6 313.3 Z"/>
<path class="t" d="M168.0 310.4 L170.5 312.2 L170.5 313.7 L168.0 312.1 Z" style="stroke-width:0.5"/>
<path class="w" d="M171.7 302.9 L173.3 294.4 L177.3 294.4 L179.1 304.2"/>
<path class="t" d="M173.0 296.4 L177.6 296.4"/>
<path class="w" d="M203.3 325.3 L212.8 319.5 L221.3 322.1 L221.3 331.4 L211.8 337.2 L203.3 334.6 Z"/>
<path class="l" d="M203.3 325.3 L211.8 327.9 L211.8 337.2"/>
<path class="l" d="M211.8 327.9 L221.3 322.1"/>
<path class="t" d="M204.9 327.7 L210.2 329.3 L210.2 335.2 L204.9 333.6 Z"/>
<path class="t" d="M206.3 330.7 L208.8 332.5 L208.8 334.0 L206.3 332.4 Z" style="stroke-width:0.5"/>
<path class="w" d="M210.0 323.2 L211.6 314.7 L215.6 314.7 L217.4 324.5"/>
<path class="t" d="M211.3 316.7 L215.9 316.7"/>
<path class="w" d="M224.3 340.0 L233.8 334.2 L242.3 336.8 L242.3 346.1 L232.8 351.9 L224.3 349.3 Z"/>
<path class="l" d="M224.3 340.0 L232.8 342.6 L232.8 351.9"/>
<path class="l" d="M232.8 342.6 L242.3 336.8"/>
<path class="t" d="M225.9 342.4 L231.2 344.0 L231.2 349.9 L225.9 348.3 Z"/>
<path class="t" d="M227.3 345.4 L229.8 347.2 L229.8 348.7 L227.3 347.1 Z" style="stroke-width:0.5"/>
<path class="w" d="M231.0 337.9 L232.6 329.4 L236.6 329.4 L238.4 339.2"/>
<path class="t" d="M232.3 331.4 L236.9 331.4"/>
<path class="w" d="M243.0 351.0 L252.5 345.2 L261.0 347.8 L261.0 357.1 L251.5 362.9 L243.0 360.3 Z"/>
<path class="l" d="M243.0 351.0 L251.5 353.6 L251.5 362.9"/>
<path class="l" d="M251.5 353.6 L261.0 347.8"/>
<path class="t" d="M244.6 353.4 L249.9 355.0 L249.9 360.9 L244.6 359.3 Z"/>
<path class="t" d="M246.0 356.4 L248.5 358.2 L248.5 359.7 L246.0 358.1 Z" style="stroke-width:0.5"/>
<path class="w" d="M258 352 L262.5 350 L266 354 L263.5 357.5 L259.5 357 Z"/>
<path class="w" d="M248.0 420.0 L257.5 414.2 L266.0 416.8 L266.0 426.1 L256.5 431.9 L248.0 429.3 Z"/>
<path class="l" d="M248.0 420.0 L256.5 422.6 L256.5 431.9"/>
<path class="l" d="M256.5 422.6 L266.0 416.8"/>
<path class="t" d="M249.6 422.4 L254.9 424.0 L254.9 429.9 L249.6 428.3 Z"/>
<path class="t" d="M251.0 425.4 L253.5 427.2 L253.5 428.7 L251.0 427.1 Z" style="stroke-width:0.5"/>
<path class="w" d="M263 421 L268 420.5 L272.5 425 L271 429.5 L265 427.5 Z"/>
<path class="w" d="M398.8 480.8 L406.7 477.9 L416.2 484.2 L416.7 492.5 L407.9 497.1 L399.6 490.0 Z"/>
<path class="l" d="M398.8 480.8 L407.9 487.9 L416.2 484.2"/>
<path class="l" d="M407.9 487.9 L407.9 497.1"/>
<path class="t" d="M409.5 489.3 L415.0 486.8 L415.2 491.5 L409.5 494.3 Z"/>
<path class="t" d="M411.0 490.5 L413.8 489.3 L413.9 491.3 L411.0 492.7 Z"/>
<path class="w" d="M166.0 715.0 L175.5 709.2 L184.0 711.8 L184.0 721.1 L174.5 726.9 L166.0 724.3 Z"/>
<path class="l" d="M166.0 715.0 L174.5 717.6 L174.5 726.9"/>
<path class="l" d="M174.5 717.6 L184.0 711.8"/>
<path class="t" d="M167.6 717.4 L172.9 719.0 L172.9 724.9 L167.6 723.3 Z"/>
<path class="t" d="M169.0 720.4 L171.5 722.2 L171.5 723.7 L169.0 722.1 Z" style="stroke-width:0.5"/>
<path class="w" d="M172.7 712.9 L174.3 704.4 L178.3 704.4 L180.1 714.2"/>
<path class="t" d="M174.0 706.4 L178.6 706.4"/>
<path class="dd" d="M220 350 L242.5 361.5 L242.5 355.5"/>
<path class="dd" d="M231 356 L222.5 362.5"/>
<path class="w" d="M303.3 385.9 L306.4 386.6 L303.9 391.2 L301.7 389.1 Z"/>
<path class="w" d="M306.5 386.3 L319.9 393.4 L317.1 398.6 L303.8 391.5 Z"/>
<path class="t" d="M310.0 388.2 L307.3 393.3"/>
<ellipse class="w" cx="318.5" cy="396.0" rx="1.3" ry="2.9" transform="rotate(28.0 318.5 396.0)"/>
<ellipse class="k" cx="318.5" cy="396.0" rx="0.7" ry="1.5999999999999999" transform="rotate(28.0 318.5 396.0)"/>
<path class="w" d="M340.1 410.6 L337.9 410.4 L340.7 405.6 L341.9 407.4 Z"/>
<path class="w" d="M337.9 410.4 L329.7 405.6 L332.5 400.8 L340.7 405.6 Z"/>
<path class="w" d="M330.1 405.0 L322.0 400.2 L324.0 396.8 L332.1 401.5 Z"/>
<path class="w" d="M355.3 353.0 L362.3 353.0 L362.3 364.5 L355.3 364.5 Z"/>
<path class="w" d="M356.6 364.5 L361.0 364.5 L361.0 372.5 L356.6 372.5 Z"/>
<path class="w" d="M357.0 353.0 L357.4 350.5 L360.2 350.5 L360.6 353.0"/>
<path class="w" d="M355.6 377.5 L362.3 377.5 L362.3 392.0 L360.5 394.0 L357.3 394.0 L355.6 392.0 Z"/>
<ellipse class="w" cx="358.95" cy="377.5" rx="3.35" ry="1.5"/>
<ellipse class="t" cx="358.95" cy="377.6" rx="2" ry="0.8"/>
</g>
<g id="p29">
<path class="w" d="M388.75 402.5 L391.25 401.25 L393.1 403.75 L396.9 410.6 L396.25 413.1 L393.75 413.75 L392.5 417.5 L390 427.5 Q388 436 385 442.5 Q382 449.5 378.75 455 Q375 460.5 371.25 463.75 Q367 467 362.5 468.1 L355 468.1 Q350 467.5 348.75 465 Q346.3 462 346.9 458.75 L348.75 448.75 L350.6 440 Q352 437.5 353.75 438.1 L355.6 440 L357.5 448.75 Q358.5 451.5 360 451.25 Q362 450.8 363.75 448.75 L368.75 440 L375 426.25 L382.5 413.75 Z"/>
<path class="t" d="M390.6 404 L384.4 415.6 L376.9 428.1 L370.6 441.25 L365.6 450 Q362 454 358.5 453 Q356 452 355 449"/>
<path class="t" d="M391.25 415 L387.5 427.5 L382.5 440 Q379 447 376.25 451.25 Q372 457 368.75 458.75 Q364 462.5 361.25 463.75 L353.75 463.1 Q349.5 461 348.5 457"/>
<path class="t" d="M350.6 440 L352.5 449 Q353.5 455 357 457.5 L356.5 466"/>
<path class="t" d="M376 432 L373 446 L372 452"/>
<ellipse class="t" cx="350.8" cy="456.5" rx="1.3" ry="2.4" transform="rotate(15 350.8 456.5)"/>
<path class="l" d="M362.5 459.5 l4 -1 l1 1.6 l-3.5 1" style="stroke-width:0.8"/>
<path class="k" d="M391.5 410.5 l3 -1.5 l2 3 l-3 2 Z"/>
</g>
<g id="p2">
<path class="w" d="M422.0 505.5 L503.0 455.0 L574.0 495.5 L576.0 499.0 L576.0 519.0 L574.0 522.8 L494.2 571.0 L421.7 531.0 Z"/>
<path class="l" d="M422.0 505.5 L423.5 503.3 L503.0 455.0" style="stroke-width:1.6"/>
<path class="t" d="M426.0 504.5 L503.0 458.5 L571.0 496.5"/>
<path class="l" d="M421.7 506.7 L424.0 508.0 L424.0 510.5 L431.0 514.0 L431.0 512.0 L437.0 515.0 L437.0 518.0 L455.0 527.0 L455.0 524.5 L462.0 528.0 L462.0 531.0 L478.0 539.0 L478.0 536.5 L485.0 540.0 L485.0 543.0 L494.2 547.5"/>
<path class="l" d="M494.2 547.5 L500.0 544.0 L500.0 541.0 L506.0 537.5 L506.0 540.5 L530.0 526.0 L530.0 523.0 L536.0 519.5 L536.0 522.5 L556.0 510.5 L556.0 507.0 L563.0 503.0 L563.0 506.0 L574.0 499.5"/>
<path class="l" d="M494.2 547.5 L494.2 571.0"/>
<path class="t" d="M490.0 513.0 L522.0 494.0 L546.0 508.0 L515.0 526.5 Z"/>
<path class="l" d="M445.5 492.5 L451.0 489.3 L454.0 491.1 L448.5 494.3 Z"/>
<path class="t" d="M445.5 492.5 L445.5 490.7 L451.0 487.5 L451.0 489.3"/>
<path class="l" d="M463.5 482.0 L469.0 478.8 L472.0 480.6 L466.5 483.8 Z"/>
<path class="t" d="M463.5 482.0 L463.5 480.2 L469.0 477.0 L469.0 478.8"/>
<path class="l" d="M482.0 471.0 L487.5 467.8 L490.5 469.6 L485.0 472.8 Z"/>
<path class="t" d="M482.0 471.0 L482.0 469.2 L487.5 466.0 L487.5 467.8"/>
<path class="t" d="M437.5 520.0 L461.7 531.7 L468.3 543.3 L488.3 552.5 L488.3 555.0 L466.7 545.8 L460.0 535.0 L437.5 522.5 Z"/>
<path class="l" d="M424.5 522.0 L428.5 524.0 L428.5 530.0 L424.5 528.0 Z"/>
<path class="t" d="M437.0 526.0 L437.0 533.0 L441.5 535.5 L441.5 528.5 L437.0 526.0"/>
<circle class="l" cx="512" cy="538" r="1.5" style="stroke-width:1.3"/>
<circle class="l" cx="527" cy="530" r="1.5" style="stroke-width:1.3"/>
<circle class="l" cx="527.4" cy="547" r="1.5" style="stroke-width:1.3"/>
<circle class="l" cx="512" cy="555" r="1.5" style="stroke-width:1.3"/>
<path class="t" d="M510.5 537.0 L527.0 527.8 L529.0 530.0 L529.0 548.0 L512.5 557.0 L510.5 555.0 Z"/>
<ellipse class="l" cx="519.6" cy="542.6" rx="6.6" ry="8" transform="rotate(-25 519.6 542.6)"/>
<ellipse class="t" cx="519.6" cy="542.6" rx="3.6" ry="4.6" transform="rotate(-25 519.6 542.6)"/>
<path class="t" d="M522.8 543.9 L525.5 544.8"/>
<path class="t" d="M521.2 546.4 L522.5 549.3"/>
<path class="t" d="M518.6 546.7 L517.8 549.9"/>
<path class="t" d="M516.6 544.6 L514.1 546.1"/>
<path class="t" d="M516.4 541.3 L513.7 540.4"/>
<path class="t" d="M518.0 538.8 L516.7 535.9"/>
<path class="t" d="M520.6 538.5 L521.4 535.3"/>
<path class="t" d="M522.6 540.6 L525.1 539.1"/>
<path class="t" d="M541.0 522.0 L549.0 518.0 L555.0 521.0 L568.0 513.0 L568.0 516.0 L556.0 523.5 L550.0 521.0 L542.0 525.0 Z"/>
<path class="t" d="M564.0 505.0 L564.0 516.0"/>
<path class="t" d="M566.0 504.0 L566.0 515.0"/>
<path class="t" d="M536.0 536.0 L541.0 533.0 L541.0 540.0 L535.0 541.5 L543.0 537.0"/>
<path class="k" d="M531.5 521.5 l3 -1.6 l2 1 l-3 2 Z"/>
</g>
<g id="p3">
<path class="w" d="M362.5 658.5 L365.0 655.0 L370.0 652.5 L376.5 651.2 L390.0 653.5 L404.0 656.5 L411.0 656.3 L415.0 655.3 L437.5 644.0 L455.0 631.0 L466.0 622.0 L475.0 615.0 L482.0 605.0 L487.5 595.0 L493.0 584.0 L496.5 579.5 L498.0 577.3 L500.5 577.0 L502.0 579.0 L503.0 588.0 L505.0 596.0 L509.0 607.0 L513.0 617.0 L514.5 621.5 L521.0 631.0 L540.0 642.0 L561.0 654.0 L570.0 656.5 L580.0 657.5 L580.0 645.0 L582.5 632.0 L586.5 627.3 L588.5 626.0 L591.0 626.5 L592.2 629.0 L592.8 635.0 L592.3 677.5 L531.7 712.5 L527.5 718.5 L525.5 728.0 L524.5 736.0 L521.5 741.0 L516.0 743.5 L510.0 743.0 L506.0 739.5 L503.5 735.5 L499.0 737.5 L491.7 737.0 L483.0 731.7 L435.0 705.0 L415.0 695.5 L413.0 694.5 L412.0 691.0 L403.0 686.0 L395.0 681.0 L388.0 675.0 L383.0 671.0 L374.0 668.5 L372.5 666.5 L366.5 665.5 L364.0 663.0 Z"/>
<path class="t" d="M377.5 652.5 L381.0 657.5 L388.0 661.5 L415.0 671.0 L432.0 673.5"/>
<path class="t" d="M408.0 670.0 L399.0 676.0"/>
<ellipse class="t" cx="369.5" cy="659.5" rx="2.4" ry="2.1"/>
<path class="t" d="M372.0 661.0 L379.0 664.5"/>
<path class="t" d="M404.0 656.5 L415.0 660.0 L430.0 660.5 L444.0 655.0 L466.0 640.0 L487.5 623.0"/>
<path class="t" d="M415.0 656.0 L422.0 659.0 L437.0 652.0 L455.0 639.0 L470.0 627.0"/>
<path class="l" d="M372.5 666.5 L380.0 667.5 L386.0 669.0 L391.0 673.0 L397.0 677.5 L405.0 682.0 L415.0 687.0 L435.0 697.7 L460.0 711.0 L490.0 729.0 L499.0 732.0 L504.5 730.0" style="stroke-width:1.5"/>
<path class="t" d="M420.0 691.5 L440.0 702.5 L460.0 713.5 L489.0 731.0 L499.0 734.3"/>
<path class="l" d="M444.0 683.0 L502.0 650.0" style="stroke-width:1.5"/>
<path class="t" d="M432.0 672.0 L444.0 683.0"/>
<path class="t" d="M514.5 621.5 L519.0 636.0 L560.0 659.5 L572.0 662.0 L580.0 662.0"/>
<path class="t" d="M521.0 631.0 L523.0 640.0 L561.0 662.0 L561.0 654.0"/>
<path class="t" d="M519.0 643.0 L560.0 667.0 L575.0 668.5"/>
<path class="t" d="M538.0 650.0 L541.0 646.0 L542.0 652.5"/>
<path class="t" d="M550.0 657.0 L553.0 653.0 L554.0 659.5"/>
<path class="l" d="M578.3 660.0 L576.7 666.7 L573.3 675.0 L566.7 680.8 L541.7 695.0 L532.5 702.5 L528.3 713.3 L525.5 722.0"/>
<path class="t" d="M591.0 677.0 L574.0 678.5 L566.7 680.8"/>
<path class="t" d="M586.5 627.3 L584.0 640.0 L581.0 660.0 L577.0 672.0"/>
<path class="t" d="M591.0 626.5 L588.0 640.0 L584.0 662.0 L578.0 676.0"/>
<path class="t" d="M498.0 577.3 L497.0 600.0 L494.0 618.0 L487.0 640.0 L482.0 652.0"/>
<path class="t" d="M500.5 577.0 L500.0 598.0 L497.0 620.0 L490.0 642.0 L485.0 654.0"/>
<path class="t" d="M482.0 652.0 L485.0 654.0"/>
<path class="t" d="M502.0 579.0 L505.0 600.0 L509.0 612.0 L513.5 621.0"/>
<path class="t" d="M466.0 622.0 L480.0 625.0 L494.0 618.0"/>
<path class="t" d="M437.5 644.0 L462.0 634.0 L487.0 640.0"/>
<path class="w" d="M458 628 q-1.5 -4 1.5 -5 q3.5 -0.5 3.5 3 l1 1.5"/>
<path class="w" d="M508.5 622.0 L512.0 620.5 L519.5 623.5 L520.0 655.0 L514.0 657.5 L509.5 655.0 Z"/>
<path class="t" d="M508.5 622.0 L513.0 625.0 L519.5 623.5"/>
<path class="t" d="M513.0 625.0 L514.0 657.5"/>
<path class="w" d="M557.5 662.5 L564.0 657.5 L568.3 656.0 L569.8 676.7 L560.3 684.0 L558.5 682.5 Z"/>
<path class="t" d="M564.0 657.5 L565.0 680.0"/>
<path class="t" d="M557.5 662.5 L559.3 664.0 L560.3 684.0"/>
<path class="t" d="M559.3 664.0 L564.0 660.0"/>
<path class="t" d="M566.5 668.0 L566.0 678.5 L568.5 677.0 L566.5 668.0"/>
<path class="w" d="M432.0 665.4 L443.5 671.5 L445.0 672.3 L445.0 700.8 L443.5 700.0 L431.5 693.5 Z"/>
<path class="t" d="M443.5 671.5 L443.5 700.0"/>
<path class="t" d="M433.2 681.0 L432.6 693.8 L434.6 695.0 L433.2 681.0"/>
<path class="t" d="M441.0 685.0 L439.5 698.0 L442.6 699.5 L441.0 685.0"/>
<path class="w" d="M496.0 699.0 L507.0 694.3 L508.6 694.8 L510.3 723.6 L508.8 724.6 L498.0 727.0 Z"/>
<path class="t" d="M507.0 694.3 L508.8 724.6"/>
<path class="t" d="M497.5 712.0 L498.3 726.5 L500.5 726.0 L497.5 712.0"/>
<path class="t" d="M505.5 708.0 L505.0 725.0 L508.0 724.5 L505.5 708.0"/>
<ellipse class="wt" cx="514" cy="682.5" rx="3.8" ry="2.7"/>
<ellipse class="wt" cx="532.5" cy="678.3" rx="3.8" ry="2.7"/>
<ellipse class="wt" cx="527.5" cy="689" rx="3.8" ry="2.7"/>
<ellipse class="wt" cx="509" cy="692.5" rx="3.8" ry="2.7"/>
<ellipse class="wt" cx="490" cy="695.5" rx="3.8" ry="2.7"/>
<ellipse class="wt" cx="485.5" cy="706" rx="3.8" ry="2.7"/>
<path class="l" d="M453.0 690.2 L456.6 688.2 L463.0 691.6 L459.4 693.6 Z"/>
<path class="t" d="M454.6 691.0 L458.0 689.2"/>
<path class="l" d="M476.5 716.2 L480.1 714.2 L486.5 717.6 L482.9 719.6 Z"/>
<path class="t" d="M478.1 717.0 L481.5 715.2"/>
<path class="l" d="M499.0 661.2 L502.6 659.2 L509.0 662.6 L505.4 664.6 Z"/>
<path class="t" d="M500.6 662.0 L504.0 660.2"/>
<path class="l" d="M490.0 649.7 L493.6 647.7 L500.0 651.1 L496.4 653.1 Z"/>
<path class="t" d="M491.6 650.5 L495.0 648.7"/>
<path class="l" d="M548.0 674.2 L551.6 672.2 L558.0 675.6 L554.4 677.6 Z"/>
<path class="t" d="M549.6 675.0 L553.0 673.2"/>
<path class="l" d="M522.0 666.2 L525.6 664.2 L532.0 667.6 L528.4 669.6 Z"/>
<path class="t" d="M523.6 667.0 L527.0 665.2"/>
<circle class="t" cx="451.5" cy="695" r="1.2"/>
<path class="t" d="M505.0 730.0 L506.5 736.5 L512.0 739.5 L519.0 739.0 L523.5 734.0 L526.0 720.0"/>
<path class="t" d="M511.0 722.0 L512.0 737.0"/>
<path class="t" d="M518.0 722.0 L517.5 737.0"/>
<path class="t" d="M510.0 724.0 L514.0 718.0 L526.0 720.0"/>
<path class="dd" d="M351 648.5 L367 658"/>
<path class="dd" d="M385 669.5 L358.5 685 L372 692.5"/>
<path class="dd" d="M526.7 720 L555.3 736 L555.3 723.5"/>
<path class="dd" d="M435.8 540 L435.8 667"/>
<path class="dd" d="M514.5 559 L514.5 620"/>
<path class="dd" d="M565.5 529 L565.5 656"/>
<path class="dd" d="M505 568 L505 698"/>
</g>
<g id="p7">
<path class="w" d="M40.0 574.5 L43.5 571.6 L45.1 569.9 L68.2 549.6 L88.5 546.5 L94.0 550.5 L110.0 551.0 L118.0 550.0 L122.0 552.0 L124.0 557.0 L122.5 561.5 L140.0 569.5 L143.0 570.0 L156.3 568.0 L159.7 570.0 L161.0 574.7 L159.0 579.3 L163.7 581.3 L166.3 589.3 L167.0 597.3 L166.3 605.3 L163.7 607.3 L150.0 620.0 L138.0 632.5 L133.0 632.0 L120.0 624.5 L118.0 623.0 L92.5 611.7 L90.0 606.7 L83.0 604.0 L78.0 614.0 L74.0 616.5 L68.5 615.0 L67.0 611.5 L70.0 608.0 L71.0 598.5 L56.7 594.0 L45.0 587.5 L40.8 581.7 Z"/>
<clipPath id="finA"><path d="M41.5 574 L47 567.8 L52 564.8 L58 558.3 L66.7 551.3 L84 546 L88.5 547 L93 550.5 L60 582 Z"/></clipPath>
<clipPath id="finB"><path d="M57.5 580.5 L90 549.5 L110 552 L112 558 L122.5 562.5 L140 570.5 L150 578 L160 580.5 L128.5 612.5 Z"/></clipPath>
<path class="l" d="M43.3 571.8 L56.1 578.2" style="stroke-width:1.15"/>
<path class="l" d="M46.6 568.9 L59.5 575.4" style="stroke-width:1.15"/>
<path class="l" d="M49.9 566.0 L63.0 572.5" style="stroke-width:1.15"/>
<path class="l" d="M53.2 563.1 L66.4 569.7" style="stroke-width:1.15"/>
<path class="l" d="M56.5 560.2 L69.8 566.9" style="stroke-width:1.15"/>
<path class="l" d="M59.8 557.3 L73.2 564.0" style="stroke-width:1.15"/>
<path class="l" d="M63.1 554.4 L76.7 561.2" style="stroke-width:1.15"/>
<path class="l" d="M66.4 551.5 L80.1 558.4" style="stroke-width:1.15"/>
<path class="l" d="M40.3 574.5 L42.9 570.9 L44.1 572.1 L46.2 568.0 L47.4 569.2 L49.5 565.1 L50.7 566.3 L52.8 562.2 L54.0 563.4 L56.1 559.3 L57.3 560.5 L59.4 556.4 L60.6 557.6 L62.7 553.5 L63.9 554.7 L66.0 550.6 L67.2 551.8 L68.4 549.4"/>
<path class="l" d="M68.4 549.4 L88.5 546.5"/>
<g clip-path="url(#finB)"><path d="M4.9 619.0 l100 -78" style="fill:none;stroke:#141414;stroke-width:1.45"/><path d="M11.2 619.0 l100 -78" style="fill:none;stroke:#141414;stroke-width:1.45"/><path d="M17.5 619.0 l100 -78" style="fill:none;stroke:#141414;stroke-width:1.45"/><path d="M23.9 619.0 l100 -78" style="fill:none;stroke:#141414;stroke-width:1.45"/><path d="M30.2 619.0 l100 -78" style="fill:none;stroke:#141414;stroke-width:1.45"/><path d="M36.6 619.0 l100 -78" style="fill:none;stroke:#141414;stroke-width:1.45"/><path d="M43.0 619.0 l100 -78" style="fill:none;stroke:#141414;stroke-width:1.45"/><path d="M49.3 619.0 l100 -78" style="fill:none;stroke:#141414;stroke-width:1.45"/><path d="M55.6 619.0 l100 -78" style="fill:none;stroke:#141414;stroke-width:1.45"/><path d="M62.0 619.0 l100 -78" style="fill:none;stroke:#141414;stroke-width:1.45"/><path d="M68.3 619.0 l100 -78" style="fill:none;stroke:#141414;stroke-width:1.45"/><path d="M74.7 619.0 l100 -78" style="fill:none;stroke:#141414;stroke-width:1.45"/><path d="M81.1 619.0 l100 -78" style="fill:none;stroke:#141414;stroke-width:1.45"/><path d="M87.4 619.0 l100 -78" style="fill:none;stroke:#141414;stroke-width:1.45"/><path d="M93.8 619.0 l100 -78" style="fill:none;stroke:#141414;stroke-width:1.45"/><path d="M100.1 619.0 l100 -78" style="fill:none;stroke:#141414;stroke-width:1.45"/><path d="M106.4 619.0 l100 -78" style="fill:none;stroke:#141414;stroke-width:1.45"/><path d="M112.8 619.0 l100 -78" style="fill:none;stroke:#141414;stroke-width:1.45"/><path d="M119.1 619.0 l100 -78" style="fill:none;stroke:#141414;stroke-width:1.45"/><path d="M125.5 619.0 l100 -78" style="fill:none;stroke:#141414;stroke-width:1.45"/><path d="M131.8 619.0 l100 -78" style="fill:none;stroke:#141414;stroke-width:1.45"/></g>
<path class="l" d="M40.0 574.0 L57.0 580.5 L128.5 613.0 L160.0 580.5"/>
<circle class="wt" cx="117.3" cy="556" r="2.6"/><circle class="t" cx="117.3" cy="556" r="1.3"/>
<circle class="wt" cx="153" cy="573.5" r="2.6"/><circle class="t" cx="153" cy="573.5" r="1.3"/>
<path class="t" d="M110.0 551.0 L112.5 559.5 L122.5 561.5"/>
<path class="t" d="M143.0 570.0 L147.0 577.5 L159.0 579.3"/>
<path class="t" d="M158.5 580.0 L162.5 585.0 L164.5 597.0 L164.0 606.0"/>
<path class="l" d="M128.5 613.0 L131.0 617.0 L133.0 632.0"/>
<path class="t" d="M131.0 617.0 L161.0 590.0 L164.5 597.0"/>
<path class="t" d="M148.0 622.0 L146.0 607.0 L158.5 596.5 L161.0 608.0"/>
<path class="w" d="M142.0 616.5 L146.0 618.5 L146.0 627.5 L142.0 625.5 Z"/>
<path class="t" d="M54.0 584.5 L57.0 583.5 L75.0 591.5 L75.0 594.0"/>
<path class="l" d="M57.0 583.5 L57.0 587.5 L60.0 589.0 L60.0 596.0"/>
<path class="t" d="M61.0 589.5 L71.0 593.5 L71.0 598.5 L61.0 595.0 Z"/>
<path class="t" d="M63.0 591.5 L69.0 594.0 L69.0 596.5 L63.0 594.0 Z"/>
<path class="l" d="M72.0 592.5 L76.0 591.0 L84.0 594.5 L83.0 604.0"/>
<path class="t" d="M76.0 591.0 L75.5 606.0 L72.5 611.5"/>
<path class="t" d="M80.0 596.0 L79.5 607.0 L76.5 613.5"/>
<ellipse class="t" cx="72.3" cy="612.3" rx="2.2" ry="1.5"/>
<path class="t" d="M84.0 598.0 L88.0 599.5 L90.0 606.7"/>
<path class="t" d="M88.0 599.5 L128.5 617.5"/>
<path class="l" d="M91.7 606.0 L118.0 618.0 L118.0 623.0 L92.5 611.7 Z"/>
<path d="M94.5 609.2 l0 2.6" style="fill:none;stroke:#141414;stroke-width:1.1"/>
<path d="M96.6 610.2 l0 2.6" style="fill:none;stroke:#141414;stroke-width:1.1"/>
<path d="M98.7 611.1 l0 2.6" style="fill:none;stroke:#141414;stroke-width:1.1"/>
<path d="M100.8 612.1 l0 2.6" style="fill:none;stroke:#141414;stroke-width:1.1"/>
<path d="M102.9 613.1 l0 2.6" style="fill:none;stroke:#141414;stroke-width:1.1"/>
<path d="M105.0 614.1 l0 2.6" style="fill:none;stroke:#141414;stroke-width:1.1"/>
<path d="M107.1 615.0 l0 2.6" style="fill:none;stroke:#141414;stroke-width:1.1"/>
<path d="M109.2 616.0 l0 2.6" style="fill:none;stroke:#141414;stroke-width:1.1"/>
<path d="M111.3 617.0 l0 2.6" style="fill:none;stroke:#141414;stroke-width:1.1"/>
<path d="M113.4 617.9 l0 2.6" style="fill:none;stroke:#141414;stroke-width:1.1"/>
<path d="M115.5 618.9 l0 2.6" style="fill:none;stroke:#141414;stroke-width:1.1"/>
<path class="t" d="M118.0 618.0 L121.0 616.5 L121.0 621.5 L118.0 623.0"/>
<path class="w" d="M46.3 603.5 L48 600.6 L52 600 L54.6 602 L54.6 606 L52.6 608.5 L48.6 608.6 L46.3 606.8 Z"/>
<ellipse class="t" cx="50.6" cy="602.8" rx="3" ry="1.9"/>
<path class="dd" d="M50.8 609 L51.7 612.5 L68.3 604"/>
<path class="w" d="M149.2 558.5 L153.8 557.6 L154.6 564.5 L150.6 565.6 Z"/>
<path class="t" d="M149.6 560.5 L154 559.8 M150 562.5 L154.3 561.8 M150.3 564.2 L154.5 563.5"/>
<ellipse class="w" cx="150.6" cy="556.3" rx="5.3" ry="2.9"/>
<path class="w" d="M146.3 555.5 L146.6 551.8 L149.5 549.6 L153.6 550.4 L155 553 L155 556 Q151 558.6 146.3 555.5 Z"/>
<path class="t" d="M146.6 551.8 Q150 553.8 155 553 M150.3 553.2 L150.3 557.3"/>
<path class="w" d="M159 630 L169.7 619.3 L177.7 625.3 L177.7 628 L168.3 635.3 L159 632 Z"/>
<path class="t" d="M159 630 L168 633 L177.7 625.3 M168 633 L168.3 635.3"/>
<ellipse class="t" cx="167.2" cy="626" rx="1.9" ry="1.4"/>
<path class="t" d="M160.5 630.5 l3 1.2 l1.5 -1.5"/>
</g>
<g id="p33">
<path class="w" d="M114.5 786.0 L114.5 789.5 L119.5 791.0 L121.8 789.0 L121.8 786.0 Z"/>
<path class="w" d="M146.0 798.0 L146.0 801.5 L151.5 802.8 L154.0 800.8 L154.0 798.0 Z"/>
<path class="w" d="M97.9 769.7 L163.7 742.5 L175.0 748.2 L187.7 745.3 L190.6 739.7 L194.8 719.8 L197.6 715.6 L216.0 710.8 L254.3 726.9 L254.3 729.7 L247.2 732.6 L248.6 734.3 L231.6 739.7 L228.8 756.7 L221.7 769.4 L209.0 776.5 L209.0 775.3 L157.4 792.3 L156.6 792.9 L154.6 799.4 L143.8 798.0 L142.4 790.9 L142.4 789.5 L124.0 781.3 L121.2 786.7 L114.1 785.2 L112.7 778.8 L111.2 778.2 L98.5 772.5 Z"/>
<path class="l" d="M111.2 778.2 L112.1 773.9 L116.9 771.9 L124.0 773.9 L124.0 781.3"/>
<path class="t" d="M112.7 778.8 L113.5 775.5 L117.0 774.0 L122.0 775.8 L121.5 784.0"/>
<path class="l" d="M142.4 789.5 L143.3 786.1 L149.5 784.4 L156.6 787.5 L156.6 792.9"/>
<path class="t" d="M143.8 791.0 L144.8 788.0 L149.5 786.6 L154.6 789.0 L154.0 797.0"/>
<path class="l" d="M156.6 788.0 L207.6 771.0"/>
<path class="t" d="M190.6 739.7 L194.0 743.0 L222.0 752.5 L226.0 748.5"/>
<path class="l" d="M197.6 715.6 L200.5 718.5 L229.5 729.0 L231.6 739.7"/>
<path class="t" d="M200.5 718.5 L196.0 741.5"/>
<path class="t" d="M229.5 729.0 L248.6 734.3"/>
<path class="t" d="M229.5 729.0 L226.0 748.5 L221.0 760.0 L213.0 765.5"/>
<path class="l" d="M198.5 726.0 L226.0 735.5 L223.5 750.5 L196.0 741.0 Z"/>
<text x="202" y="740.3" style="font-size:9px">C</text>
<path class="l" d="M207.6 733.6 L214.0 735.8 L213.5 741.8 L207.2 739.6 Z"/>
<path class="k" d="M209 736 l3.6 1.2 l-0.3 2.8 l-3.5 -1.2 Z"/>
<ellipse class="l" cx="219" cy="743.6" rx="3" ry="3.9"/>
<ellipse class="k" cx="219.2" cy="743.6" rx="1.7" ry="2.5" style="fill:#777"/>
<ellipse class="t" cx="151.5" cy="759.5" rx="2.5" ry="1.7"/>
<ellipse class="t" cx="164.2" cy="757.5" rx="2.5" ry="1.7"/>
<ellipse class="t" cx="178.4" cy="755.2" rx="2.5" ry="1.7"/>
<path class="t" d="M201.9 759.5 L206.0 757.5 L218.0 761.5 L214.6 763.7 Z"/>
<path class="l" d="M201.9 759.5 L214.6 763.7 L214.6 769.4 L203.3 766.6 Z"/>
<circle class="t" cx="211" cy="765.5" r="1.3"/>
<path class="t" d="M247.2 732.6 L243.0 731.0"/>
<path class="w" d="M111.3 741 L114.8 741 L114.6 753 L113 755 L111.5 753 Z"/>
<path class="t" d="M111.3 743.5 L114.8 744.3"/>
<path class="t" d="M111.3 745.5 L114.8 746.3"/>
<path class="t" d="M111.3 747.5 L114.8 748.3"/>
<path class="t" d="M111.3 749.5 L114.8 750.3"/>
<path class="t" d="M111.3 751.5 L114.8 752.3"/>
<ellipse class="w" cx="113" cy="740.6" rx="4.4" ry="1.8"/>
<path class="w" d="M109.8 739.8 L110 736.6 L112 735.2 L115 735.5 L116.3 737 L116.3 740 Q113 741.6 109.8 739.8 Z"/>
<path class="t" d="M110 736.6 Q113 738 116.3 737 M112.6 737.6 L112.6 741"/>
<path class="w" d="M88.0 845.5 L93.0 841.5 L108.0 840.5 L113.5 842.5 L113.5 846.0 L108.0 850.5 L92.0 851.5 L88.0 849.0 Z"/>
<path class="t" d="M88.0 845.5 L92.5 847.5 L108.0 846.5 L113.5 842.5"/>
<path class="t" d="M92.5 847.5 L92.0 851.5"/>
<path class="t" d="M108.0 846.5 L108.0 850.5"/>
<path d="M94.0 848.2 l0 2.4" style="fill:none;stroke:#141414;stroke-width:0.9"/>
<path d="M96.2 848.1 l0 2.4" style="fill:none;stroke:#141414;stroke-width:0.9"/>
<path d="M98.4 848.0 l0 2.4" style="fill:none;stroke:#141414;stroke-width:0.9"/>
<path d="M100.6 847.9 l0 2.4" style="fill:none;stroke:#141414;stroke-width:0.9"/>
<path d="M102.8 847.8 l0 2.4" style="fill:none;stroke:#141414;stroke-width:0.9"/>
<path d="M105.0 847.7 l0 2.4" style="fill:none;stroke:#141414;stroke-width:0.9"/>
<path class="w" d="M196.3 806.1 L199.7 803.6 L201.8 809.7 L197.7 809.9 Z"/>
<path class="w" d="M199.7 803.6 L203.9 800.5 L219.9 794.8 L223.1 803.8 L207.1 809.5 L201.8 809.7 Z"/>
<path class="t" d="M203.9 800.5 L207.1 809.5"/>
<path class="t" d="M207.6 799.1 L210.9 808.2"/>
<path class="w" d="M220.4 796.1 L227.0 793.8 L229.2 800.2 L222.6 802.5 Z"/>
<ellipse class="w" cx="221.5" cy="799.3" rx="2" ry="4.8" transform="rotate(-19.5 221.5 799.3)"/>
<ellipse class="w" cx="228.1" cy="797.0" rx="1.5" ry="3.4" transform="rotate(-19.5 228.1 797.0)"/>
</g>
<g id="hw">
<path class="w" d="M336.4 639.6 L340.5 636.7 L347.5 635.0 L348.7 636.7 L351.0 650.0 L344.0 654.2 L340.0 653.6 L339.3 649.0 L337.6 647.2 Z"/>
<path class="t" d="M340.5 636.7 L342.5 652.5 L344.0 654.2"/>
<path class="t" d="M342.5 652.5 L339.3 649.0"/>
<path class="t" d="M336.4 639.6 L338.6 641.0 L339.3 649.0"/>
<ellipse class="t" cx="345.6" cy="644.6" rx="1.6" ry="2.1"/>
<path class="w" d="M374.2 691.5 L380.8 696.0 L378.4 699.5 L371.8 694.9 Z"/>
<path class="t" d="M375.2 692.1 L373.2 695.9"/>
<path class="t" d="M376.3 692.9 L374.4 696.7"/>
<path class="t" d="M377.5 693.7 L375.5 697.5"/>
<path class="t" d="M378.6 694.5 L376.7 698.3"/>
<path class="t" d="M379.8 695.3 L377.8 699.1"/>
<ellipse class="w" cx="381.2" cy="698.9" rx="3" ry="6.2" transform="rotate(34.5 381.2 698.9)"/>
<ellipse class="w" cx="383.3" cy="700.3" rx="2.6" ry="4.4" transform="rotate(34.5 383.3 700.3)"/>
<path class="t" d="M383.7 695.3 L385.7 696.7"/>
<path class="t" d="M378.8 702.4 L380.9 703.8"/>
<ellipse class="t" cx="383.5" cy="700.5" rx="1.3" ry="2.3" transform="rotate(34.5 383.5 700.5)"/>
<ellipse class="w" cx="555" cy="720.3" rx="5.2" ry="2.8"/>
<path class="w" d="M550.6 719.5 L550.9 716 L553.3 713.9 L557.3 713.9 L559.6 716 L559.6 719.5 Q555 722 550.6 719.5 Z" style="stroke-width:1.2"/>
<ellipse class="t" cx="555.2" cy="716" rx="2.6" ry="1.4"/>
<path class="t" d="M553.5 718 L553.5 721 M557.5 718 L557.5 721"/>
<path class="w" d="M40.5 669.5 L53.5 662.5 L65.0 667.5 L65.0 672.0 L52.0 679.0 L46.5 676.6 L44.0 678.0 L40.5 675.5 Z"/>
<path class="l" d="M40.5 669.5 L52.0 674.5 L65.0 667.5"/>
<path class="l" d="M52.0 674.5 L52.0 679.0"/>
<path class="t" d="M46.5 672.0 L46.5 676.6"/>
<path class="t" d="M55.0 666.0 L59.0 667.8 L57.0 669.0 L53.0 667.2 Z"/>
<path class="w" d="M15.0 710.5 L18.3 710.8 L25.2 714.8 L19.8 724.2 L12.9 720.2 L11.0 717.5 Z"/>
<path class="t" d="M18.3 710.8 L12.9 720.2"/>
<path class="t" d="M20.9 712.3 L15.5 721.7"/>
<path class="t" d="M23.1 713.6 L17.7 722.9"/>
<path class="w" d="M24.6 715.8 L29.8 718.8 L25.6 726.1 L20.4 723.1 Z"/>
<path class="t" d="M26.8 717.1 L22.6 724.4"/>
<path class="w" d="M29.2 719.9 L32.4 722.5 L30.1 726.5 L26.2 725.1 Z"/>
<ellipse class="w" cx="13.4" cy="714.2" rx="1.8" ry="4" transform="rotate(30 13.4 714.2)"/>
</g>
<g id="labels">
<path class="ld" d="M80 101L80 121"/>
<path class="ld" d="M242 122L242 144"/>
<path class="ld" d="M300 123L300 147"/>
<path class="ld" d="M402.5 96L402.5 117"/>
<path class="ld" d="M500 105L519 105"/>
<path class="ld" d="M499 126L519 126"/>
<path class="ld" d="M500 153L519 153"/>
<path class="ld" d="M489 182L519 182"/>
<path class="ld" d="M574 178L574 206"/>
<path class="ld" d="M475.5 213L475.5 225"/>
<path class="ld" d="M572 243L572 262.5"/>
<path class="ld" d="M439 241L439 260"/>
<path class="ld" d="M402.5 308L425 308"/>
<path class="ld" d="M355.5 153L355.5 177"/>
<path class="ld" d="M320.5 218L320.5 232.5"/>
<path class="ld" d="M149 189L149 206"/>
<path class="ld" d="M103 209L103 225.5"/>
<path class="ld" d="M250 252.5L272 252.5"/>
<path class="ld" d="M152.5 290L166 299"/>
<path class="ld" d="M201 320L207 324"/>
<path class="ld" d="M88 313L88 335"/>
<path class="ld" d="M241 338L265 338"/>
<path class="ld" d="M293 386L293 412"/>
<path class="ld" d="M447.6 373.5L447.6 399"/>
<path class="ld" d="M332.5 410L332.5 436"/>
<path class="ld" d="M357.5 470L357.5 495"/>
<path class="ld" d="M531 446L531 470"/>
<path class="ld" d="M298 565L315 565"/>
<path class="ld" d="M156 555L171.5 555"/>
<path class="ld" d="M167.5 596.5L185 596.5"/>
<path class="ld" d="M178 626.7L198 626.7"/>
<path class="ld" d="M31 605L46 605"/>
<path class="ld" d="M65.5 669L85 669"/>
<path class="ld" d="M90.5 745.5L110 745.5"/>
<path class="ld" d="M77 769L98 769"/>
<path class="ld" d="M161.5 826.5L161.5 843"/>
<path class="ld" d="M319 644L336 644"/>
<path class="ld" d="M380.4 706L380.4 730"/>
<path class="ld" d="M451.5 713L451.5 740"/>
<path class="ld" d="M562 720L577.5 720"/>
<text x="81" y="94.5">16</text>
<text x="242.5" y="119.0">17</text>
<text x="300" y="120.0">18</text>
<text x="402.5" y="92.5">32</text>
<text x="529" y="108.5">14</text>
<text x="529" y="130.0">12</text>
<text x="529" y="156.0">13</text>
<text x="529" y="185.0">15</text>
<text x="573" y="174.0">23</text>
<text x="475" y="209.5">25</text>
<text x="572" y="274.5">24</text>
<text x="438.5" y="237.5">26</text>
<text x="436.5" y="312.0">27</text>
<text x="353.5" y="149.5">31</text>
<text x="320" y="215.0">20</text>
<text x="150.6" y="185.0">19</text>
<text x="103.5" y="238.0">22</text>
<text x="283" y="257.5">21</text>
<text x="144.5" y="290.0">21</text>
<text x="194" y="319.5">15</text>
<text x="87.5" y="310.0">1</text>
<text x="275" y="342.0">26</text>
<text x="293.5" y="424.0">30</text>
<text x="446.5" y="369.5">22</text>
<text x="332.5" y="448.5">28</text>
<text x="358" y="509.5">29</text>
<text x="531.5" y="442.2">2</text>
<text x="324.7" y="570.0">36</text>
<text x="177" y="558.5">9</text>
<text x="191" y="600.5">7</text>
<text x="204.5" y="631.5">8</text>
<text x="22" y="609.5">10</text>
<text x="94" y="673.5">11</text>
<text x="80.5" y="749.5">35</text>
<text x="67.5" y="774.5">33</text>
<text x="161" y="856.0">34</text>
<text x="312.5" y="648.5">5</text>
<text x="380.5" y="744.5">4</text>
<text x="452" y="755.5">3</text>
<text x="585.5" y="725.1">6</text>
</g>
</svg>
</body></html>
